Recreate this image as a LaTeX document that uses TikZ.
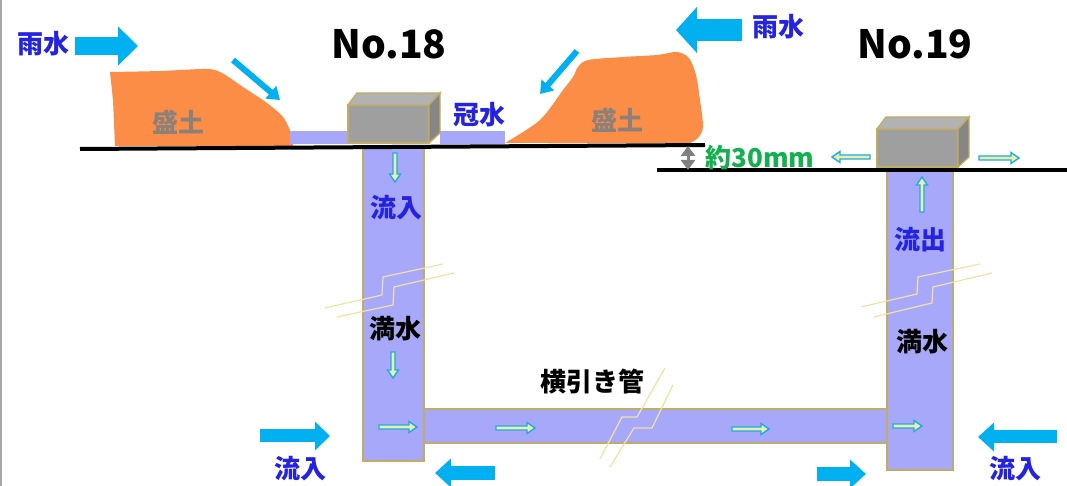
\documentclass[tikz,border=0pt]{standalone}
\usepackage{fontspec}
\newfontfamily\jpfont{Noto Sans CJK JP}
\usetikzlibrary{arrows.meta}

\definecolor{rainblue}{RGB}{0,176,240}
\definecolor{txtblue}{RGB}{35,35,225}
\definecolor{soil}{RGB}{251,141,71}
\definecolor{soiltxt}{RGB}{140,128,122}
\definecolor{water}{RGB}{168,168,250}
\definecolor{rim}{RGB}{192,172,100}
\definecolor{breakcol}{RGB}{240,226,160}
\definecolor{flowline}{RGB}{30,170,230}
\definecolor{flowfill}{RGB}{232,240,170}
\definecolor{lvlgreen}{RGB}{20,176,80}

% catch basin drawn from its front bottom left corner
\newcommand{\basin}[1]{%
  \begin{scope}[shift={(#1)}]
    \filldraw[draw=rim, fill=gray!75, line width=0.7pt] (0,0) rectangle (81,-38);
    \filldraw[draw=rim, fill=gray!60, line width=0.7pt] (0,-38) -- (9,-50) -- (92,-50) -- (81,-38) -- cycle;
    \filldraw[draw=rim, fill=gray!95, line width=0.7pt] (81,-38) -- (92,-50) -- (92,-10) -- (81,0) -- cycle;
  \end{scope}}

% small flow arrow: position, angle, length
\newcommand{\flow}[3]{%
  \filldraw[draw=flowline, fill=flowfill, line width=0.7pt, shift={(#1)}, rotate=#2]
    (0,-2) -- ({#3-8},-2) -- ({#3-8},-5.5) -- (#3,0) -- ({#3-8},5.5) -- ({#3-8},2) -- (0,2) -- cycle;}

\begin{document}
\begin{tikzpicture}[x=0.5pt, y=-0.5pt,
    lbl/.style={font=\jpfont\bfseries\fontsize{13}{15}\selectfont, inner sep=0pt},
    title/.style={font=\jpfont\bfseries\fontsize{19.5}{22}\selectfont, inner sep=0pt},
    rain/.style={draw=rainblue, line width=#1},
    pipe/.style={draw=rim, fill=water, line width=0.8pt},
    ground/.style={draw=black, line width=2pt},
    breakline/.style={draw=breakcol, line width=0.6pt}]
  \useasboundingbox (0,0) rectangle (1067,486);
  \fill[white] (0,0) rectangle (1067,486);
  \draw[gray!70, line width=1pt] (1,0) -- (1,486);

  % soil mounds
  \fill[soil] (115,146) -- (113,100) -- (110,72)
    -- plot[smooth, tension=0.5] coordinates {(110,72) (160,71) (207,69) (222,73) (243,87) (267,103) (283,117) (291,133) (293,146)} -- cycle;
  \fill[soil] (505,143)
    -- plot[smooth, tension=0.5] coordinates {(505,143) (540,120) (563,90) (573,77) (578,67) (588,60) (623,57) (657,55) (677,52) (689,58) (696,75) (700,100) (703,127) (698,138) (690,143)} -- cycle;

  % flooded surface
  \fill[water] (290,131) rectangle (348,144);
  \fill[water] (440,131) rectangle (505,144);

  % pipes
  \filldraw[pipe] (420,409) rectangle (890,443);
  \filldraw[pipe] (363,147) rectangle (424,461);
  \filldraw[pipe] (887,170) rectangle (953,470);

  % ground lines and level difference
  \coordinate (gnd18) at (688,146);
  \coordinate (gnd19) at (688,170);
  \draw[ground] (80,149) -- (705,145);
  \draw[ground] (657,170) -- (1067,170);
  \draw[gray, line width=1.5pt, {Triangle[length=5pt,width=7pt]}-{Triangle[length=5pt,width=7pt]}] (gnd18) -- (gnd19);

  \basin{348,143}
  \basin{877,167}

  % rain water
  \draw[rain=9pt, -{Triangle[length=10pt,width=19pt]}] (75,46) -- (138,46);
  \draw[rain=11pt, -{Triangle[length=10.5pt,width=22.5pt]}] (742,30) -- (676,30);
  \draw[rain=3pt, -{Triangle[length=6pt,width=8pt]}] (233,60) -- (280,100);
  \draw[rain=3pt, -{Triangle[length=6pt,width=8pt]}] (577,51) -- (540,94);
  \draw[rain=6.5pt, -{Triangle[length=7.5pt,width=14pt]}] (260,436) -- (330,436);
  \draw[rain=7pt, -{Triangle[length=8pt,width=14pt]}] (495,473) -- (435,473);
  \draw[rain=7pt, -{Triangle[length=8pt,width=14pt]}] (817,474) -- (866,474);
  \draw[rain=6.5pt, -{Triangle[length=8pt,width=14pt]}] (1057,437) -- (978,437);

  % flow inside the pipes
  \flow{395,153}{-90}{29}
  \flow{393,352}{-90}{26}
  \flow{379,427}{0}{38}
  \flow{496,428}{0}{39}
  \flow{732,429}{0}{37}
  \flow{893,426}{0}{29}
  \flow{922,212}{90}{35}
  \flow{870,157}{180}{38}
  \flow{979,158}{0}{40}

  % break marks
  \draw[breakline] (325,308) -- (382,295) -- (383,277) -- (443,264);
  \draw[breakline] (337,317) -- (393,305) -- (394,287) -- (454,273);
  \draw[breakline] (861,307) -- (917,294) -- (918,277) -- (980,264);
  \draw[breakline] (874,317) -- (932,303) -- (933,287) -- (992,273);
  \draw[breakline] (665,368) -- (637,417) -- (622,417) -- (600,459);
  \draw[breakline] (673,385) -- (652,428) -- (634,428) -- (610,467);

  % labels
  \node[title] (no18) at (389,44) {No.18};
  \node[title] (no19) at (915,44) {No.19};
  \node[lbl, txtblue] (rainL) at (44,44) {雨水};
  \node[lbl, txtblue] (rainR) at (778,27) {雨水};
  \node[lbl, soiltxt] (soilL) at (178,122) {盛土};
  \node[lbl, soiltxt] (soilR) at (617,120) {盛土};
  \node[lbl, txtblue] (flood) at (479,115) {冠水};
  \node[lbl, lvlgreen] (diff) at (760,158) {約30mm};
  \node[lbl, txtblue] (in18) at (396,208) {流入};
  \node[lbl] (full18) at (395,329) {満水};
  \node[lbl] (lateral) at (592,382) {横引き管};
  \node[lbl, txtblue] (out19) at (920,240) {流出};
  \node[lbl] (full19) at (922,342) {満水};
  \node[lbl, txtblue] (inL) at (300,469) {流入};
  \node[lbl, txtblue] (inR) at (1015,469) {流入};
\end{tikzpicture}
\end{document}
